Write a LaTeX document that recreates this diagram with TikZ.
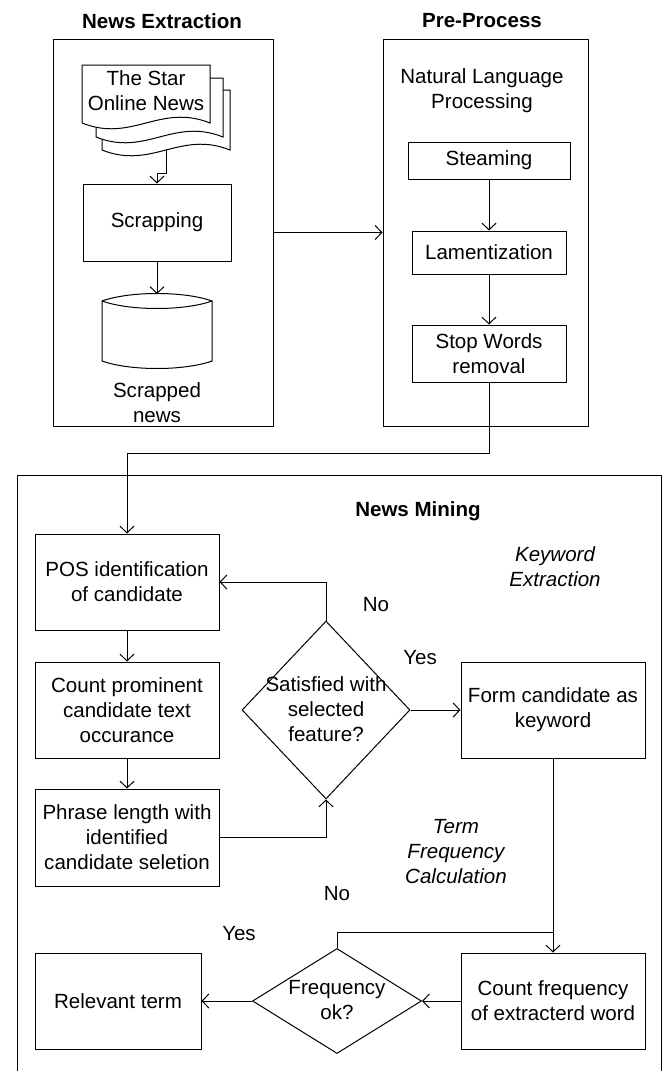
\documentclass[tikz,border=0pt]{standalone}
\usepackage{fontspec}
\setmainfont{Liberation Sans}
\usetikzlibrary{arrows.meta,shapes.geometric,calc}
\newcommand\dfs{\fontsize{15.4}{18.75}\selectfont}
\tikzset{
  lw/.style={line width=0.75pt, draw=black},
  box/.style={lw, rectangle, inner sep=0pt, align=center, font=\dfs, fill=white},
  dia/.style={lw, diamond, inner sep=0pt, aspect=1},
  txt/.style={inner sep=0pt, align=center, font=\dfs},
  ttl/.style={inner sep=0pt, align=center, font=\dfs\bfseries},
  itl/.style={inner sep=0pt, align=center, font=\dfs\itshape},
  arr/.style={lw, -{Straight Barb[length=5pt,width=10.5pt,line width=0.75pt]}},
  con/.style={lw},
}
\begin{document}
\begin{tikzpicture}[x=0.75pt,y=-0.75pt]
\useasboundingbox (0,0) rectangle (665,1071);

% containers
\node[lw, rectangle, inner sep=0pt, minimum width=165pt, minimum height=290.25pt] (leftc) at (163,232.5) {};
\node[lw, rectangle, inner sep=0pt, minimum width=153.75pt, minimum height=290.25pt] (rightc) at (485.5,232.5) {};
\draw[lw] (17,1075) -- (17,475) coordinate (mtl) -- (661,475) -- (661,1075);

% titles
\node[ttl] (t1) at (162,21) {News Extraction};
\node[ttl] (t2) at (482,21) {Pre-Process};
\node[ttl] (t3) at (418,511) {News Mining};

% document stack
\draw[lw, fill=white] (102,90) -- (230,90) -- (230,150)
  .. controls ($(230,150)+(-50,-20)$) and ($(102,150)+(50,20)$) .. (102,150) -- cycle;
\draw[lw, fill=white] (96,78) -- (223,78) -- (223,137)
  .. controls ($(223,137)+(-50,-20)$) and ($(96,137)+(50,20)$) .. (96,137) -- cycle;
\draw[lw, fill=white] (82,65) -- (210,65) -- (210,123)
  .. controls ($(210,123)+(-50,-20)$) and ($(82,123)+(50,20)$) .. (82,123) -- cycle;
\node[txt] (doc) at (146,91) {The Star\\Online News};
\coordinate (docbot) at (166,150);

% scrapping and storage
\node[box, minimum width=111pt, minimum height=57.75pt] (scr) at (157,222.5) {Scrapping};
\draw[lw, fill=white] (102,301) .. controls (130,291) and (184,291) .. (212,301)
  -- (212,361) .. controls (184,371) and (130,371) .. (102,361) -- cycle;
\draw[lw] (102,301) .. controls (130,311) and (184,311) .. (212,301);
\coordinate (cyltop) at (157,294);
\node[txt] (stor) at (157,403) {Scrapped\\news};

% pre-process
\node[txt] (nlp) at (482,90.5) {Natural Language\\Processing};
\node[box, minimum width=121.5pt, minimum height=27.75pt] (ste) at (489,160.5) {Steaming};
\node[box, minimum width=115.5pt, minimum height=32.25pt] (lam) at (489,252.5) {Lamentization};
\node[box, minimum width=115.5pt, minimum height=42.75pt] (stop) at (489,353.5) {Stop Words\\removal};

% news mining
\node[box, minimum width=138pt, minimum height=72pt] (pos) at (127,582) {POS identification\\of candidate};
\node[box, minimum width=138pt, minimum height=72pt] (cnt) at (127,710) {Count prominent\\candidate text\\occurance};
\node[box, minimum width=138pt, minimum height=72.75pt] (phr) at (127,837.5) {Phrase length with\\identified\\candidate seletion};
\node[dia, minimum width=126pt, minimum height=133.5pt] (sat) at (326,710) {};
\node[txt] (sattxt) at (326,709) {Satisfied with\\selected\\feature?};
\node[box, minimum width=138pt, minimum height=72pt] (form) at (553,710) {Form candidate as\\keyword};
\node[box, minimum width=138pt, minimum height=72pt] (cf) at (553,1001) {Count frequency\\of extracterd word};
\node[dia, minimum width=126.75pt, minimum height=78.75pt] (frq) at (337,1001) {};
\node[txt] (frqtxt) at (337,1000.5) {Frequency\\ok?};
\node[box, minimum width=124.5pt, minimum height=72pt] (rel) at (118,1001) {Relevant term};

\node[itl] (kw) at (555,566.5) {Keyword\\Extraction};
\node[itl] (tf) at (456,852) {Term\\Frequency\\Calculation};
\node[txt] (no1) at (376,605) {No};
\node[txt] (yes1) at (420,658) {Yes};
\node[txt] (no2) at (337,894) {No};
\node[txt] (yes2) at (239,934) {Yes};

% connectors
\draw[arr] (docbot) -- (166,173) -| (scr.north);
\draw[arr] (scr.south) -- (cyltop);
\draw[arr] (leftc.east) -- (rightc.west);
\draw[arr] (ste.south) -- (lam.north);
\draw[arr] (lam.south) -- (stop.north);
\draw[arr] (stop.south) -- (stop.south |- 0,453) -| (pos.north);
\draw[arr] (pos.south) -- (cnt.north);
\draw[arr] (cnt.south) -- (phr.north);
\draw[arr] (phr.east) -| (sat.south);
\draw[arr] (sat.north) |- (pos.east);
\draw[arr] (sat.east) -- (form.west);
\draw[arr] (form.south) -- (cf.north);
\coordinate (junc) at (553,932);
\draw[con] (frq.north) |- (junc);
\draw[arr] (cf.west) -- (frq.east);
\draw[arr] (frq.west) -- (rel.east);
\end{tikzpicture}
\end{document}
